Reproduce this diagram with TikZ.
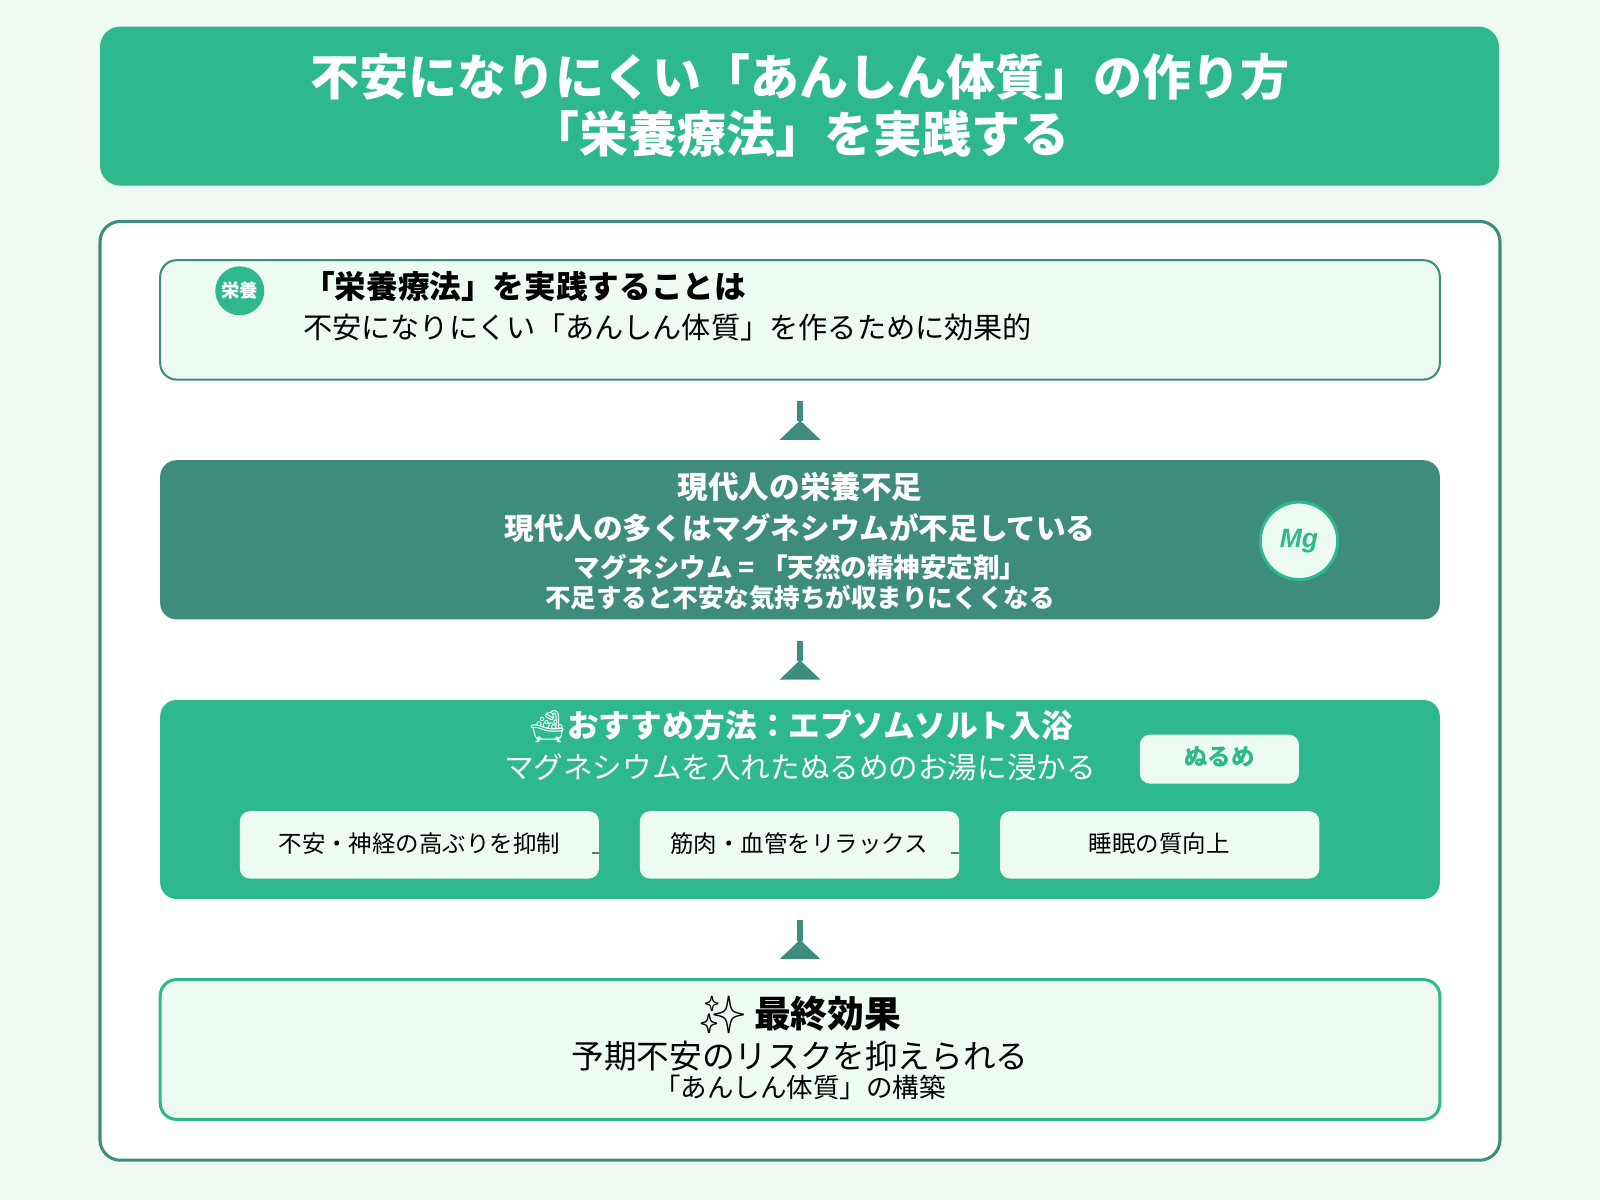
\documentclass[tikz,border=0pt]{standalone}
\usepackage{fontspec}
\setmainfont{Noto Sans CJK JP}
\newfontfamily\emo{Noto Emoji}
\newfontfamily\lat{Liberation Sans}
\definecolor{bg}{HTML}{EEFAF2}
\definecolor{grn}{HTML}{2DB88D}
\definecolor{teal}{HTML}{3D8C7C}
\definecolor{lite}{HTML}{EEFBF3}
\tikzset{
 fs/.style={font=\fontsize{#1}{#1}\selectfont},
 fb/.style={font=\bfseries\fontsize{#1}{#1}\selectfont},
}
\begin{document}
\begin{tikzpicture}[x=0.5pt,y=-0.5pt]
\fill[bg] (0,0) rectangle (1568,1176);
\useasboundingbox (0,0) rectangle (1568,1176);
% header
\fill[grn,rounded corners=10pt] (98,26) rectangle (1469,182);
\node[fb=24,text=white] (h1) at (784,75) {不安になりにくい「あんしん体質」の作り方};
\node[fb=24,text=white] (h2) at (784,131) {「栄養療法」を実践する};
% panel
\draw[teal,line width=1.5pt,fill=white,rounded corners=10pt] (98,217) rectangle (1470,1137);
% box1
\draw[teal,line width=1pt,fill=lite,rounded corners=8pt] (157,255) rectangle (1411,372);
\node[circle,fill=grn,minimum size=24pt,inner sep=0pt,text=white,fb=9] (c1) at (235,285) {栄養};
\node[anchor=west,fb=15.5] (t1) at (290,281) {「栄養療法」を実践することは};
\node[anchor=west,fs=14.3] (s1) at (290,321) {不安になりにくい「あんしん体質」を作るために効果的};
% arrows
\foreach \y in {393,628,902}{
 \draw[teal,line width=2.5pt] (784,\y) -- (784,\y+20);
 \fill[teal] (764,\y+38) -- (784,\y+19) -- (804,\y+38) -- cycle;}
% box2
\fill[teal,rounded corners=8pt] (157,451) rectangle (1411,607);
\node[fb=15,text=white] (t2) at (784,477) {現代人の栄養不足};
\node[fb=14.5,text=white] (s2) at (784,517) {現代人の多くはマグネシウムが不足している};
\node[fb=13,text=white] (s2b) at (784,556) {マグネシウム = 「天然の精神安定剤」};
\node[fb=12.5,text=white] (s2c) at (784,586) {不足すると不安な気持ちが収まりにくくなる};
\node[circle,draw=grn,line width=1.5pt,fill=lite,minimum size=38pt,inner sep=0pt,text=grn,font=\lat\bfseries\itshape\fontsize{13}{13}\selectfont] (mg) at (1273,530) {Mg};
% box3
\fill[grn,rounded corners=8pt] (157,686) rectangle (1411,881);
\node[fb=15.5,text=white] (t3) at (784,712) {{\emo 🛁}おすすめ方法：エプソムソルト入浴};
\node[fs=14.5,text=white] (s3) at (784,752) {マグネシウムを入れたぬるめのお湯に浸かる};
\fill[lite,rounded corners=5pt] (1117,720) rectangle (1273,768);
\node[fb=11.5,text=grn] (nu) at (1195,742) {ぬるめ};
\fill[lite,rounded corners=5pt] (235,795) rectangle (587,861);
\fill[lite,rounded corners=5pt] (627,795) rectangle (940,861);
\fill[lite,rounded corners=5pt] (980,795) rectangle (1293,861);
\node[fs=11.5] (e1) at (411,827) {不安・神経の高ぶりを抑制};
\node[fs=11.5] (e2) at (783,827) {筋肉・血管をリラックス};
\node[fs=11.5] (e3) at (1136,827) {睡眠の質向上};
\draw[teal,line width=1pt] (580,836) -- (588,836);
\draw[teal,line width=1pt] (932,836) -- (940,836);
% box4
\draw[grn,line width=1.5pt,fill=lite,rounded corners=8pt] (157,960) rectangle (1411,1097);
\node[fb=18] (t4) at (784,995) {{\emo ✨} 最終効果};
\node[fs=16] (s4) at (784,1035) {予期不安のリスクを抑えられる};
\node[fs=13] (s4b) at (784,1066) {「あんしん体質」の構築};
\end{tikzpicture}
\end{document}
